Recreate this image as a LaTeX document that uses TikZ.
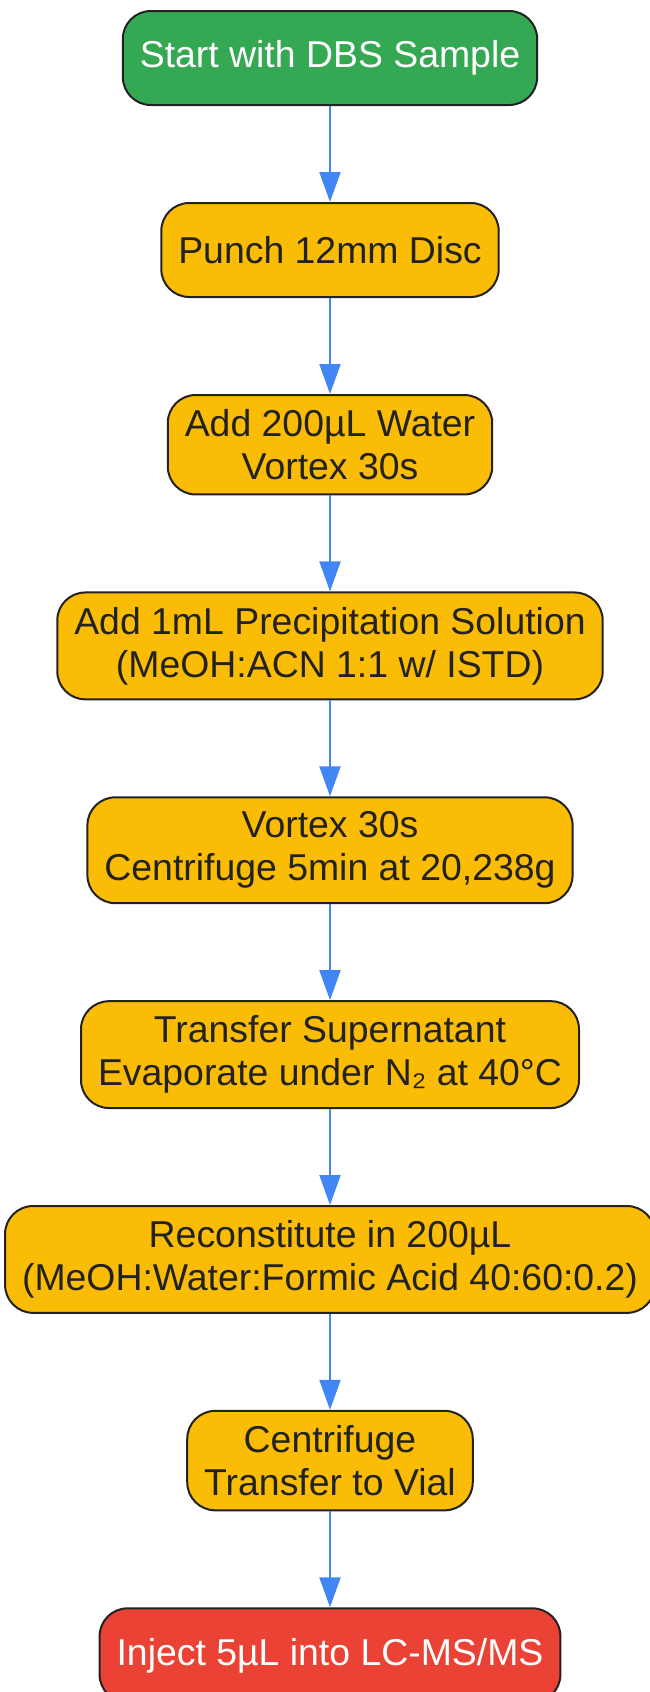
\documentclass[tikz,border=0pt]{standalone}
\usepackage{fontspec}
\setmainfont{Liberation Sans}
\usetikzlibrary{positioning,arrows.meta}
\definecolor{startgreen}{HTML}{34A853}
\definecolor{stepyellow}{HTML}{FBBC05}
\definecolor{endred}{HTML}{EA4335}
\definecolor{flowblue}{HTML}{4285F4}
\definecolor{linegray}{HTML}{222222}
\tikzset{
  stepbox/.style={draw=linegray, line width=2pt, rounded corners=28pt,
    fill=stepyellow, text=linegray, align=center, minimum height=94pt,
    inner xsep=17pt, inner ysep=14.5pt, font=\fontsize{37.4}{43}\selectfont},
  startbox/.style={stepbox, fill=startgreen, text=white},
  endbox/.style={stepbox, fill=endred, text=white},
  flow/.style={draw=flowblue, line width=2pt, -{Triangle[length=30pt,width=21pt]}}
}
\begin{document}
\begin{tikzpicture}[node distance=96pt]
      \useasboundingbox (0,0) rectangle (649pt,-1692pt);
      \node[startbox] (start) at (330pt,-58pt) {Start with DBS Sample};
      \node[stepbox, below=of start] (punch) {Punch 12mm Disc};
      \node[stepbox, below=of punch] (water) {Add 200µL Water\\Vortex 30s};
      \node[stepbox, below=of water] (precip) {Add 1mL Precipitation Solution\\(MeOH:ACN 1:1 w/ ISTD)};
      \node[stepbox, below=of precip] (spin) {Vortex 30s\\Centrifuge 5min at 20,238g};
      \node[stepbox, below=of spin] (evap) {Transfer Supernatant\\Evaporate under N₂ at 40°C};
      \node[stepbox, below=of evap] (recon) {Reconstitute in 200µL\\(MeOH:Water:Formic Acid 40:60:0.2)};
      \node[stepbox, below=of recon] (vial) {Centrifuge\\Transfer to Vial};
      \node[endbox, below=of vial] (inject) {Inject 5µL into LC-MS/MS};
      \begin{scope}[flow]
        \draw (start) to (punch);
        \draw (punch) to (water);
        \draw (water) to (precip);
        \draw (precip) to (spin);
        \draw (spin) to (evap);
        \draw (evap) to (recon);
        \draw (recon) to (vial);
        \draw (vial) to (inject);
      \end{scope}
    \end{tikzpicture}
\end{document}
